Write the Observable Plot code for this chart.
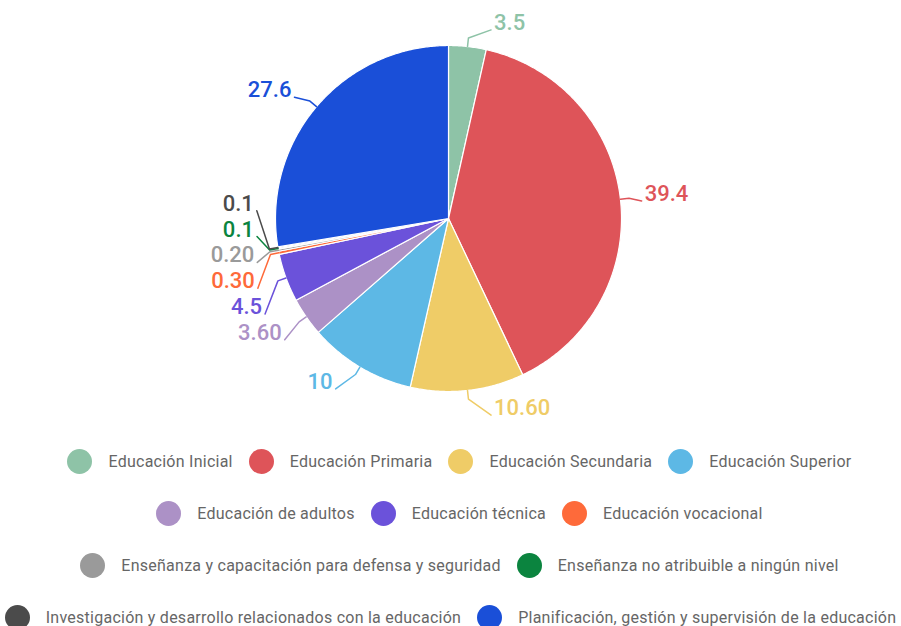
<!DOCTYPE html>
<html><head><meta charset="utf-8">
<script src="https://cdn.jsdelivr.net/npm/d3@7"></script>
<script src="https://cdn.jsdelivr.net/npm/@observablehq/plot@0.6"></script>
<style>
body{margin:0;background:#fff;font-family:Roboto,sans-serif;overflow:hidden;}
#chart{width:901px;height:435px;}
#legend{width:901px;}
.rowwrap{height:52px;display:flex;justify-content:center;align-items:center;}
.row{display:inline-flex;align-items:center;white-space:nowrap;flex:none;}
.item{display:flex;align-items:center;margin:0 8px;}
.sw{width:25px;height:25px;border-radius:50%;margin-right:16px;flex:none;}
.lab{font-size:16px;color:#666;letter-spacing:0.25px;}
</style></head><body>
<div id="chart"></div>
<div id="legend"></div>
<script>
const categories = [
  "Educación Inicial","Educación Primaria","Educación Secundaria","Educación Superior",
  "Educación de adultos","Educación técnica","Educación vocacional",
  "Enseñanza y capacitación para defensa y seguridad","Enseñanza no atribuible a ningún nivel",
  "Investigación y desarrollo relacionados con la educación","Planificación, gestión y supervisión de la educación"
];
const values = [3.5, 39.4, 10.6, 10, 3.6, 4.5, 0.3, 0.2, 0.1, 0.1, 27.6];
const valueLabels = ["3.5","39.4","10.60","10","3.60","4.5","0.30","0.20","0.1","0.1","27.6"];
const colors = ["#8ec3a7","#de5459","#efcc67","#5db8e5","#ac91c6","#6b52da","#fe6a3a","#9a9a9a","#0b843f","#4b4b4b","#1a4fd8"];
const legendRows = [[0,1,2,3],[4,5,6],[7,8],[9,10]];

// layout
const W = 901, H = 435, CX = 448, CY = 218, R = 173;
const total = d3.sum(values);
let cum = 0;
const slices = values.map((v, i) => {
  const a0 = cum / total * 2 * Math.PI; cum += v;
  const a1 = cum / total * 2 * Math.PI;
  return {i, name: categories[i], value: v, label: valueLabels[i], color: colors[i], a0, a1, m: (a0 + a1) / 2};
});
function slicePoints(s) {
  const n = Math.max(2, Math.ceil((s.a1 - s.a0) / (Math.PI / 360)));
  const pts = [{x: 0, y: 0}];
  for (let k = 0; k <= n; k++) {
    const a = s.a0 + (s.a1 - s.a0) * k / n;
    pts.push({x: Math.sin(a), y: Math.cos(a)});
  }
  pts.push({x: 0, y: 0});
  return pts;
}
// labels with collision relaxation
const LRX = 1.1, LRY = 1.12, gap = 25.8 / R;
slices.forEach(s => {
  s.side = Math.sin(s.m) >= 0 ? 1 : -1;
  const c = Math.abs(Math.cos(s.m));
  s.lx = LRX * Math.sin(s.m) + s.side * (4 + 18 * c * c * c) / R;
  s.d = -LRY * Math.cos(s.m);
});
function relax(items) {
  items.sort((a, b) => a.d - b.d);
  const clusters = [];
  const fix = c => { c.start = d3.mean(c.items, t => t.d) - (c.items.length - 1) * gap / 2; };
  for (const it of items) {
    clusters.push({items: [it]});
    fix(clusters[clusters.length - 1]);
    while (clusters.length > 1) {
      const cur = clusters[clusters.length - 1], prev = clusters[clusters.length - 2];
      if (prev.start + prev.items.length * gap > cur.start) {
        prev.items = prev.items.concat(cur.items); clusters.pop(); fix(prev);
      } else break;
    }
  }
  clusters.forEach(c => c.items.forEach((t, k) => { t.fd = c.start + k * gap; }));
}
relax(slices.filter(s => s.side > 0));
relax(slices.filter(s => s.side < 0));
slices.forEach(s => { s.ly = -s.fd; });

const marks = [];
slices.forEach(s => {
  marks.push(Plot.line(slicePoints(s), {x: "x", y: "y", fill: s.color, stroke: "white", strokeWidth: 1.2, strokeLinejoin: "round"}));
});
slices.forEach(s => {
  const p = [
    {x: Math.sin(s.m), y: Math.cos(s.m)},
    {x: 1.05 * Math.sin(s.m), y: 1.05 * Math.cos(s.m)},
    {x: s.lx, y: s.ly - 4 / R}
  ];
  marks.push(Plot.line(p, {x: "x", y: "y", stroke: s.color, strokeWidth: 1.5}));
});
const common = {x: "lx", y: "ly", text: "label", fill: "color", fontSize: 22, fontWeight: 500, fontFamily: "Roboto", dy: -3};
marks.push(Plot.text(slices.filter(s => s.side > 0), {...common, textAnchor: "start", dx: 3}));
marks.push(Plot.text(slices.filter(s => s.side < 0), {...common, textAnchor: "end", dx: -3}));

const chart = Plot.plot({
  width: W, height: H, margin: 0,
  style: {fontFamily: "Roboto", overflow: "visible", background: "white"},
  x: {domain: [-CX / R, (W - CX) / R], range: [0, W], axis: null},
  y: {domain: [-(H - CY) / R, CY / R], range: [H, 0], axis: null},
  marks
});
document.getElementById("chart").appendChild(chart);

const leg = document.getElementById("legend");
legendRows.forEach(row => {
  const wrap = document.createElement("div"); wrap.className = "rowwrap";
  const r = document.createElement("div"); r.className = "row";
  row.forEach(i => {
    const it = document.createElement("div"); it.className = "item";
    const sw = document.createElement("span"); sw.className = "sw"; sw.style.background = colors[i];
    const lb = document.createElement("span"); lb.className = "lab"; lb.textContent = categories[i];
    it.appendChild(sw); it.appendChild(lb); r.appendChild(it);
  });
  wrap.appendChild(r);
  leg.appendChild(wrap);
  const w = r.getBoundingClientRect().width;
  const shift = Math.max(0, Math.min(9, (W - w) / 2 - 1));
  r.style.transform = `translateX(${shift}px)`;
});
</script>
</body></html>
